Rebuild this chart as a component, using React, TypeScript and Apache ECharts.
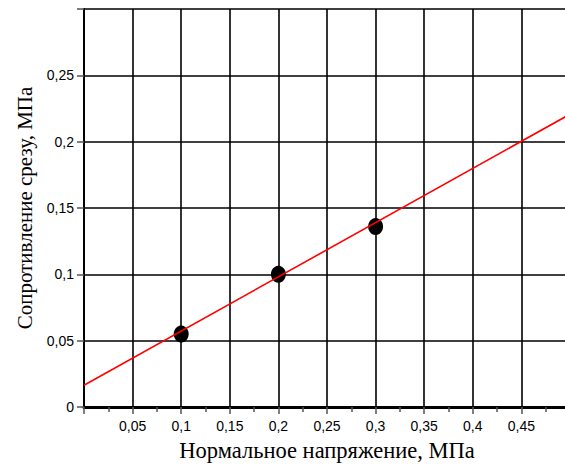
import React, { useEffect, useRef } from "react";
import * as echarts from "echarts";

// Measured points: normal stress (MPa) vs. shear resistance (MPa)
const normalStress = [0.1, 0.2, 0.3];
const shearResistance = [0.055, 0.1, 0.136];

// Trend line endpoints (x, y)
const trendX = [0, 0.5];
const trendY = [0.0164, 0.2207];

const xTitle = "Нормальное напряжение, МПа";
const yTitle = "Сопротивление срезу, МПа";

const serif = "'Liberation Serif', 'Times New Roman', serif";
const sans = "'Liberation Sans', Arial, sans-serif";

const fmt = (v: number) => (v === 0 ? "0" : String(+v.toFixed(3)).replace(".", ","));

export default function App() {
  const ref = useRef<HTMLDivElement>(null);

  useEffect(() => {
    if (!ref.current) return;
    const chart = echarts.init(ref.current, null, { renderer: "svg" });
    chart.setOption({
      animation: false,
      backgroundColor: "#ffffff",
      // the plot runs slightly past the right edge of the canvas
      grid: { left: 84, top: 9, width: 486, height: 398, outerBoundsMode: "none", containLabel: false },
      xAxis: {
        type: "value",
        min: 0,
        max: 0.5,
        interval: 0.05,
        name: xTitle,
        nameLocation: "middle",
        nameGap: 32,
        nameTextStyle: { fontFamily: serif, fontSize: 22.5, color: "#000" },
        axisLine: { show: true, onZero: false, lineStyle: { color: "#000", width: 3 } },
        axisTick: { show: true, length: 7, lineStyle: { color: "#555", width: 1.5 } },
        minorTick: { show: true, splitNumber: 2, length: 5, lineStyle: { color: "#555", width: 1.5 } },
        axisLabel: {
          margin: 12,
          fontFamily: sans,
          fontSize: 14,
          color: "#000",
          formatter: (v: number) => (v === 0 || v >= 0.5 ? "" : fmt(v)),
        },
        splitLine: { show: true, lineStyle: { color: "#000", width: 1.6 } },
      },
      yAxis: {
        type: "value",
        min: 0,
        max: 0.3,
        interval: 0.05,
        name: yTitle,
        nameLocation: "middle",
        nameGap: 49,
        nameTextStyle: { fontFamily: serif, fontSize: 21, color: "#000" },
        axisLine: { show: true, onZero: false, lineStyle: { color: "#000", width: 2 } },
        axisTick: { show: true, length: 7, lineStyle: { color: "#555", width: 1.5 } },
        axisLabel: {
          margin: 10,
          fontFamily: sans,
          fontSize: 14,
          color: "#000",
          formatter: (v: number) => (v >= 0.3 ? "" : fmt(v)),
        },
        splitLine: { show: true, lineStyle: { color: "#000", width: 1.6 } },
      },
      series: [
        {
          type: "line",
          data: trendX.map((x, i) => [x, trendY[i]]),
          showSymbol: false,
          lineStyle: { color: "#ff0000", width: 1.6 },
          z: 3,
        },
        {
          type: "scatter",
          data: normalStress.map((x, i) => [x, shearResistance[i]]),
          symbol: "circle",
          symbolSize: [15, 17],
          itemStyle: { color: "#000", opacity: 1 },
          z: 2,
        },
      ],
    });
    return () => chart.dispose();
  }, []);

  return <div ref={ref} style={{ width: 565, height: 466, position: "absolute", left: 0, top: 0 }} />;
}
